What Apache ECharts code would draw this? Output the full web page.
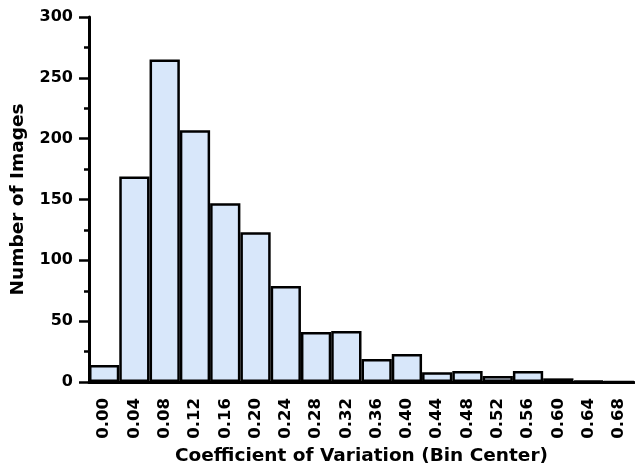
<!DOCTYPE html>
<html><head><meta charset="utf-8">
<script src="https://cdn.jsdelivr.net/npm/echarts@6/dist/echarts.min.js"></script>
<style>html,body{margin:0;padding:0;background:#fff}#c{width:635px;height:467px}</style>
</head><body><div id="c"></div>
<script>
const categories = ['0.00','0.04','0.08','0.12','0.16','0.20','0.24','0.28','0.32','0.36','0.40','0.44','0.48','0.52','0.56','0.60','0.64','0.68'];
const counts = [14,169,265,207,147,123,79,41,42,19,23,8,9,5,9,3,1,0];
const yTicks = [0,50,100,150,200,250,300];

const chart = echarts.init(document.getElementById('c'), null, {renderer:'canvas'});
const font = 'DejaVu Sans, sans-serif';
chart.setOption({
  animation:false,
  grid:{left:89,right:1,top:17,bottom:85,containLabel:false,outerBoundsMode:'none'},
  xAxis:{
    type:'category', data:categories,
    name:'Coefficient of Variation (Bin Center)', nameLocation:'middle', nameGap:65,
    nameTextStyle:{fontFamily:font,fontWeight:'bold',fontSize:18.5,color:'#000'},
    axisLine:{lineStyle:{color:'#000',width:3}},
    axisTick:{alignWithLabel:true,length:9,lineStyle:{color:'#000',width:2.5}},
    axisLabel:{rotate:90,interval:0,margin:16,fontFamily:font,fontWeight:'bold',fontSize:16.5,color:'#000'},
    splitLine:{show:false}
  },
  yAxis:{
    type:'value', min:0, max:300, interval:50,
    name:'Number of Images', nameLocation:'middle', nameGap:61,
    nameTextStyle:{fontFamily:font,fontWeight:'bold',fontSize:18.5,color:'#000'},
    axisLine:{show:true,lineStyle:{color:'#000',width:3}},
    axisTick:{show:true,length:10,lineStyle:{color:'#000',width:2.5}},
    minorTick:{show:true,splitNumber:2,length:5,lineStyle:{color:'#000',width:2.5}},
    axisLabel:{margin:16,fontFamily:font,fontWeight:'bold',fontSize:16,color:'#000',
      formatter:v=>yTicks.includes(v)?String(v):''},
    splitLine:{show:false}
  },
  series:[{
    type:'bar', data:counts, barCategoryGap:'0%',
    itemStyle:{color:'#d8e7fa',borderColor:'#000',borderWidth:2.5}
  }]
});
</script></body></html>
